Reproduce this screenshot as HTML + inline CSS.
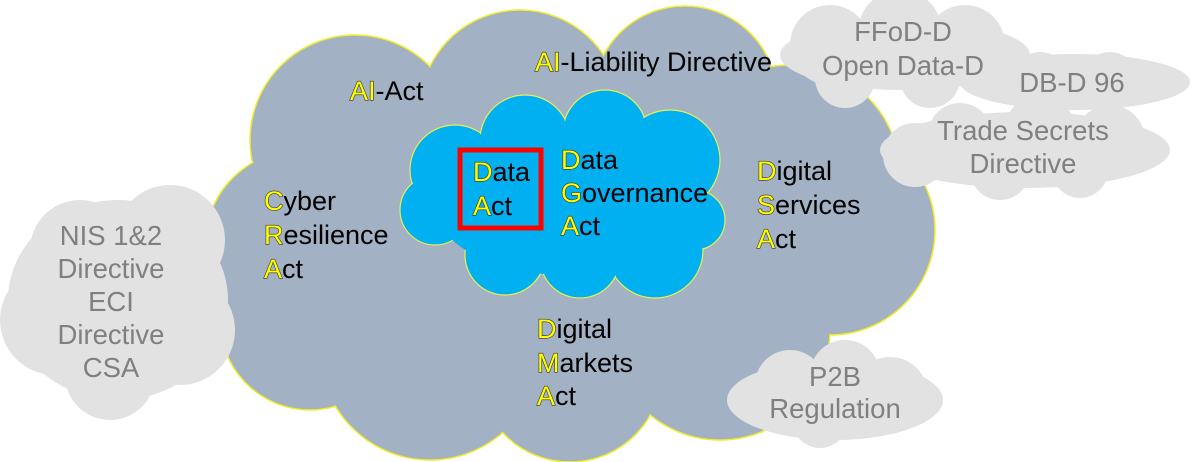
<!DOCTYPE html>
<html><head><style>
html,body{margin:0;padding:0;background:#fff;}
svg{display:block;}
text{font-family:"Liberation Sans",sans-serif;font-size:27px;}
.b{fill:#000;}
.y{fill:#ffff00;stroke:#333;stroke-width:1.2px;paint-order:stroke;}
.g{fill:#808080;font-size:27.5px;}
</style></head><body>
<svg width="1200" height="462" viewBox="0 0 1200 462">
<g fill="#a3b1c4" stroke="#f2ee2a" stroke-width="1.5">
<circle cx="355" cy="140" r="105"/><circle cx="520" cy="110" r="100"/><circle cx="685" cy="98" r="92"/>
<circle cx="790" cy="175" r="110"/><circle cx="830" cy="230" r="105"/><circle cx="300" cy="245" r="95"/>
<circle cx="310" cy="320" r="90"/><circle cx="430" cy="350" r="110"/><circle cx="570" cy="370" r="92"/>
<circle cx="720" cy="330" r="110"/>
</g>
<g fill="#a3b1c4">
<circle cx="355" cy="140" r="104"/><circle cx="520" cy="110" r="99"/><circle cx="685" cy="98" r="91"/>
<circle cx="790" cy="175" r="109"/><circle cx="830" cy="230" r="104"/><circle cx="300" cy="245" r="94"/>
<circle cx="310" cy="320" r="89"/><circle cx="430" cy="350" r="109"/><circle cx="570" cy="370" r="91"/>
<circle cx="720" cy="330" r="109"/><ellipse cx="560" cy="240" rx="260" ry="170"/>
</g>
<g fill="#00b0f0" stroke="#e8f050" stroke-width="1.2">
<circle cx="455" cy="170" r="45"/><circle cx="525" cy="140" r="45"/><circle cx="605" cy="132" r="42"/>
<circle cx="670" cy="160" r="50"/><circle cx="695" cy="220" r="30"/><circle cx="655" cy="250" r="48"/>
<circle cx="580" cy="258" r="40"/><circle cx="505" cy="255" r="40"/><circle cx="435" cy="210" r="35"/>
</g>
<g fill="#00b0f0">
<circle cx="455" cy="170" r="44"/><circle cx="525" cy="140" r="44"/><circle cx="605" cy="132" r="41"/>
<circle cx="670" cy="160" r="49"/><circle cx="695" cy="220" r="29"/><circle cx="655" cy="250" r="47"/>
<circle cx="580" cy="258" r="39"/><circle cx="505" cy="255" r="39"/><circle cx="435" cy="210" r="34"/>
<ellipse cx="565" cy="205" rx="130" ry="70"/>
</g>
<g fill="#e2e2e2">
<circle cx="80" cy="250" r="50"/><circle cx="170" cy="240" r="55"/><circle cx="55" cy="320" r="55"/>
<circle cx="180" cy="330" r="55"/><circle cx="110" cy="375" r="45"/><ellipse cx="118" cy="300" rx="110" ry="100"/>
<circle cx="830" cy="45" r="40"/><circle cx="900" cy="32" r="42"/><circle cx="965" cy="45" r="40"/>
<circle cx="845" cy="78" r="30"/><circle cx="930" cy="78" r="30"/><ellipse cx="905" cy="55" rx="125" ry="35"/>
<ellipse cx="1075" cy="82" rx="115" ry="28"/><circle cx="1040" cy="80" r="28"/><circle cx="1110" cy="80" r="28"/>
<ellipse cx="1025" cy="150" rx="145" ry="38"/><circle cx="960" cy="135" r="32"/><circle cx="1040" cy="130" r="35"/>
<circle cx="1110" cy="140" r="35"/><circle cx="1000" cy="170" r="30"/><circle cx="1080" cy="170" r="28"/><circle cx="915" cy="155" r="32"/>
<ellipse cx="835" cy="400" rx="108" ry="40"/><circle cx="790" cy="385" r="35"/><circle cx="845" cy="375" r="35"/>
<circle cx="890" cy="395" r="38"/><circle cx="820" cy="420" r="28"/>
</g>
<text x="350" y="100"><tspan class="y">AI</tspan><tspan class="b">-Act</tspan></text>
<text x="535" y="71"><tspan class="y">AI</tspan><tspan class="b">-Liability Directive</tspan></text>
<rect x="460" y="150" width="81" height="78" fill="none" stroke="#ff0000" stroke-width="5"/>
<text x="473" y="181"><tspan class="y">D</tspan><tspan class="b">ata</tspan></text>
<text x="473" y="215"><tspan class="y">A</tspan><tspan class="b">ct</tspan></text>
<text x="561" y="169"><tspan class="y">D</tspan><tspan class="b">ata</tspan></text>
<text x="561" y="202"><tspan class="y">G</tspan><tspan class="b">overnance</tspan></text>
<text x="561" y="235"><tspan class="y">A</tspan><tspan class="b">ct</tspan></text>
<text x="757" y="180"><tspan class="y">D</tspan><tspan class="b">igital</tspan></text>
<text x="757" y="214"><tspan class="y">S</tspan><tspan class="b">ervices</tspan></text>
<text x="757" y="248"><tspan class="y">A</tspan><tspan class="b">ct</tspan></text>
<text x="264" y="210"><tspan class="y">C</tspan><tspan class="b">yber</tspan></text>
<text x="264" y="244"><tspan class="y">R</tspan><tspan class="b">esilience</tspan></text>
<text x="264" y="278"><tspan class="y">A</tspan><tspan class="b">ct</tspan></text>
<text x="537" y="338"><tspan class="y">D</tspan><tspan class="b">igital</tspan></text>
<text x="537" y="372"><tspan class="y">M</tspan><tspan class="b">arkets</tspan></text>
<text x="537" y="405"><tspan class="y">A</tspan><tspan class="b">ct</tspan></text>
<g text-anchor="middle">
<text class="g" x="111" y="245">NIS 1&amp;2</text>
<text class="g" x="111" y="278">Directive</text>
<text class="g" x="111" y="311">ECI</text>
<text class="g" x="111" y="344">Directive</text>
<text class="g" x="111" y="377">CSA</text>
<text class="g" x="903" y="41">FFoD-D</text>
<text class="g" x="903" y="75">Open Data-D</text>
<text class="g" x="1072" y="92">DB-D 96</text>
<text class="g" x="1023" y="140">Trade Secrets</text>
<text class="g" x="1023" y="173">Directive</text>
<text class="g" x="835" y="386">P2B</text>
<text class="g" x="835" y="418">Regulation</text>
</g>
</svg>
</body></html>
